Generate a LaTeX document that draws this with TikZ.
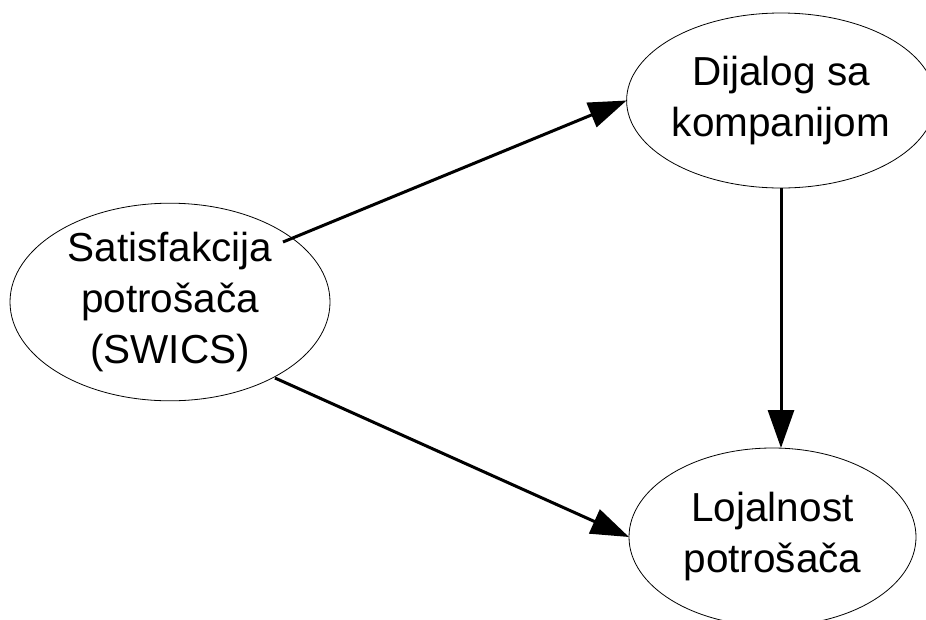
\documentclass[tikz,border=0pt]{standalone}
\usepackage{fontspec}
\setmainfont{Liberation Sans}
\usetikzlibrary{shapes.geometric,arrows.meta}
\begin{document}
\begin{tikzpicture}[x=1pt,y=-1pt,
  oval/.style={draw,ellipse,line width=0.8pt,inner sep=0pt,outer sep=0pt,
    align=center,font=\fontsize{40.5}{51}\selectfont},
  link/.style={line width=3pt,-{Triangle[length=38pt,width=26pt]}}]
\useasboundingbox (0,0) rectangle (926,619);
\begin{scope}
\clip (0,0) rectangle (926,619);
\node[oval,minimum width=320pt,minimum height=186pt] (sat) at (170,302) {Satisfakcija\\potrošača\\(SWICS)};
\node[oval,minimum width=300pt,minimum height=175pt] (dia) at (781,100.5) {Dijalog sa\\kompanijom};
\node[oval,minimum width=287pt,minimum height=178pt] (loy) at (772.5,537) {Lojalnost\\potrošača};
\end{scope}
\coordinate (s1) at (283,242);
\coordinate (s2) at (275,378);
\draw[link] (s1) -- (dia.west);
\draw[link] (s2) -- (loy.west);
\draw[link] (dia.south) -- (dia.south |- loy.north);
\end{tikzpicture}
\end{document}
